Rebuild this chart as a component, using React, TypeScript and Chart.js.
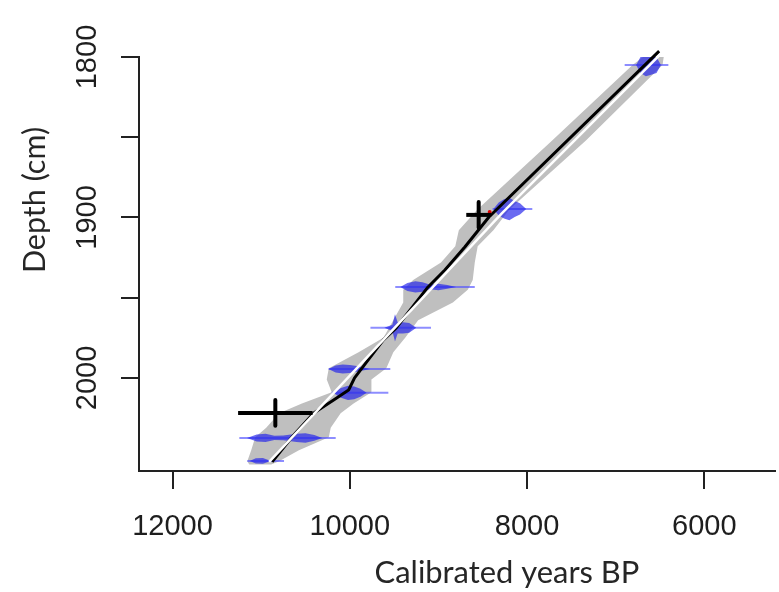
import React, { useEffect, useRef } from 'react';
import { Chart, registerables } from 'chart.js';

Chart.register(...registerables);

// ---- axes ----
const xTickValues = [12000, 10000, 8000, 6000];
const yTickValues = [1800, 1850, 1900, 1950, 2000];
const yTickLabels = ['1800', '', '1900', '', '2000'];
const xTitle = 'Calibrated years BP';
const yTitle = 'Depth (cm)';

// ---- 95% age-model envelope (grey) ----
const envelopeDepths = [1797, 1805, 1852, 1895, 1908, 1918, 1928, 1939, 1945, 1953, 1964, 1975, 1984, 1994, 2001, 2009, 2016, 2022, 2031, 2037, 2045, 2052, 2054];
const envelopeOldAges = [6620, 6810, 7717, 8560, 8770, 8810, 8971, 9285, 9397, 9397, 9509, 9621, 9901, 10237, 10260, 10204, 10540, 10798, 10943, 11067, 11112, 11156, 11134];
const envelopeYoungAges = [6450, 6472, 7336, 8200, 8380, 8557, 8590, 8613, 8669, 8837, 9229, 9375, 9509, 9588, 9756, 9756, 9957, 10103, 10215, 10237, 10574, 10798, 10887];

// ---- mean age model (black) ----
const meanDepths = [1796.3, 1899.7, 1918.4, 1932.7, 1943.3, 1968.8, 1976.3, 2000.0, 2007.5, 2013.7, 2021.8, 2036.8, 2052.3];
const meanAges = [6510, 8430, 8702, 8927, 9117, 9476, 9621, 9946, 10013, 10182, 10406, 10652, 10876];

// ---- best fit (white) ----
const fitDepths = [1796.3, 1897.5, 2052.3];
const fitAges = [6460, 8285, 10910];

// ---- calibrated dates (blue) ----
const dateDepths = [1805.0, 1894.7, 1943.3, 1968.8, 1994.4, 2009.3, 2037.4, 2051.7];
const dateOldest = [6899, 8389, 9487, 9767, 10238, 10204, 11246, 11156];
const dateYoungest = [6406, 7941, 8590, 9084, 9543, 9565, 10159, 10742];
const dateProfileAges = [
  [6770, 6720, 6660, 6600, 6540, 6490],
  [8380, 8320, 8260, 8200, 8140, 8080, 8010],
  [9430, 9350, 9260, 9180, 9100, 9000, 8900, 8800],
  [9610, 9520, 9490, 9460, 9400, 9330, 9250],
  [10240, 10160, 10080, 10000, 9920, 9770],
  [10190, 10100, 10020, 9950, 9880, 9810],
  [11160, 11050, 10950, 10850, 10750, 10600, 10500, 10400, 10310],
  [11130, 11060, 10980, 10890],
];
const dateProfileHalfHeights = [
  [0, 5, 7, 6, 5, 0],
  [0, 4, 6, 7, 5, 3.5, 0],
  [0, 2.5, 3.5, 3, 1.5, 2, 1.2, 0],
  [0, 2, 8.5, 3.5, 3.5, 3, 0],
  [0, 2.2, 2.8, 2.5, 1.8, 0],
  [0, 3, 4.5, 4, 2.5, 0],
  [0, 2.2, 2.6, 1.3, 1.5, 2.6, 3, 1.8, 0],
  [0, 1.6, 1.8, 0],
];

// ---- other age markers (black crosses) ----
const markerAges = [8546, 10840];
const markerDepths = [1898.4, 2021.8];
const markerAgeErrors = [140, 420];
const markerDepthErrors = [8, 8];

// ---- small red marker ----
const redAges = [8422];
const redDepths = [1896.6];

const pts = (xs: number[], ys: number[]) => xs.map((x, i) => ({ x, y: ys[i] }));

const lineDs = (data: any[], color: string, width: number, extra: any = {}) => ({
  data,
  borderColor: color,
  borderWidth: width,
  pointRadius: 0,
  pointHoverRadius: 0,
  fill: false,
  tension: 0,
  clip: false,
  borderCapStyle: 'butt',
  borderJoinStyle: 'round',
  ...extra,
});

const titlesPlugin = {
  id: 'axisTitles',
  afterDraw(chart: any) {
    const { ctx, chartArea } = chart;
    ctx.save();
    ctx.fillStyle = '#262626';
    ctx.textAlign = 'center';
    ctx.textBaseline = 'middle';
    const fit = (text: string, target: number) => {
      ctx.font = '30px Lato';
      const w = ctx.measureText(text).width;
      const size = (30 * target) / w;
      ctx.font = `${size.toFixed(1)}px Lato`;
    };
    fit(xTitle, 265);
    ctx.fillText(xTitle, chartArea.left + 368, chartArea.bottom + 102);
    ctx.translate(chartArea.left - 104, chartArea.top + 143);
    ctx.rotate(-Math.PI / 2);
    fit(yTitle, 146);
    ctx.fillText(yTitle, 0, 0);
    ctx.restore();
  },
};

export default function App() {
  const ref = useRef<HTMLCanvasElement>(null);

  useEffect(() => {
    document.body.style.margin = '0';
    const canvas = ref.current;
    if (!canvas) return;

    const datasets: any[] = [];

    // crosses (top-most)
    markerAges.forEach((a, i) => {
      const d = markerDepths[i];
      datasets.push(lineDs(pts([a - markerAgeErrors[i], a + markerAgeErrors[i]], [d, d]), '#000000', 4));
      datasets.push(lineDs(pts([a, a], [d - markerDepthErrors[i], d + markerDepthErrors[i]]), '#000000', 4));
    });

    datasets.push({
      data: pts(redAges, redDepths),
      showLine: false,
      pointRadius: 2,
      pointBorderWidth: 0,
      pointBackgroundColor: '#e00000',
      clip: false,
    });

    datasets.push(lineDs(pts(fitAges, fitDepths), '#ffffff', 2.5));
    datasets.push(lineDs(pts(meanAges, meanDepths), '#000000', 3));

    // blobs
    dateDepths.forEach((d, i) => {
      const ages = dateProfileAges[i];
      const hh = dateProfileHalfHeights[i];
      const top = ages.map((a, j) => ({ x: a, y: d - hh[j] }));
      const bottom = ages.map((a, j) => ({ x: a, y: d + hh[j] })).reverse();
      datasets.push(
        lineDs([...top, ...bottom], 'rgba(0,0,0,0)', 0, {
          fill: 'shape',
          backgroundColor: 'rgba(35,35,235,0.68)',
        })
      );
    });

    // range lines
    dateDepths.forEach((d, i) => {
      datasets.push(lineDs(pts([dateOldest[i], dateYoungest[i]], [d, d]), 'rgba(80,80,255,0.65)', 2));
    });

    // envelope (bottom-most)
    const envelope = [
      ...pts(envelopeOldAges, envelopeDepths),
      ...pts(envelopeYoungAges, envelopeDepths).reverse(),
    ];
    datasets.push(
      lineDs(envelope, 'rgba(0,0,0,0)', 0, {
        fill: 'shape',
        backgroundColor: '#bfbfbf',
      })
    );

    const axisCommon = {
      type: 'linear',
      reverse: true,
      border: { display: true, color: '#222222', width: 2 },
      grid: {
        display: true,
        drawOnChartArea: false,
        drawTicks: true,
        tickLength: 18,
        tickWidth: 2,
        tickColor: '#222222',
        color: '#222222',
        lineWidth: 2,
      },
    };

    const chart = new Chart(canvas, {
      type: 'line',
      data: { datasets },
      plugins: [titlesPlugin],
      options: {
        indexAxis: 'y',
        animation: false,
        responsive: false,
        maintainAspectRatio: false,
        events: [],
        layout: { padding: { top: 57, left: 0, right: 0, bottom: 0 } },
        plugins: {
          legend: { display: false },
          tooltip: { enabled: false },
          title: { display: false },
        },
        scales: {
          x: {
            ...axisCommon,
            min: 5203,
            max: 12378,
            afterBuildTicks: (s: any) => {
              s.ticks = xTickValues.map((v) => ({ value: v }));
            },
            afterFit: (s: any) => {
              s.height = 121;
            },
            ticks: {
              autoSkip: false,
              maxRotation: 0,
              minRotation: 0,
              padding: 21,
              color: '#1e1e1e',
              font: { family: '"Liberation Sans", Arial, sans-serif', size: 29 },
              callback: (v: any) => String(v),
            },
          },
          y: {
            ...axisCommon,
            min: 1800,
            max: 2058,
            afterBuildTicks: (s: any) => {
              s.ticks = yTickValues.map((v) => ({ value: v }));
            },
            afterFit: (s: any) => {
              s.width = 139;
            },
            ticks: {
              autoSkip: false,
              minRotation: 90,
              maxRotation: 90,
              crossAlign: 'center',
              padding: 1,
              color: '#1e1e1e',
              font: { family: '"Liberation Sans", Arial, sans-serif', size: 29 },
              callback: (v: any) => {
                const i = yTickValues.indexOf(Number(v));
                return i >= 0 ? yTickLabels[i] : '';
              },
            },
          },
        },
      } as any,
    } as any);

    return () => chart.destroy();
  }, []);

  return (
    <div style={{ width: 779, height: 592, background: '#ffffff' }}>
      <canvas ref={ref} width={779} height={592} style={{ display: 'block', width: 779, height: 592 }} />
    </div>
  );
}
